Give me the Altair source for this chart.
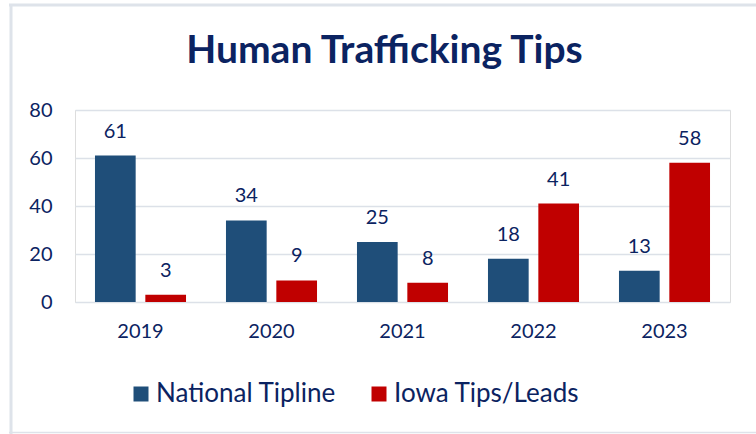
import altair as alt
import pandas as pd

years = ["2019", "2020", "2021", "2022", "2023"]
national = [61, 34, 25, 18, 13]
iowa = [3, 9, 8, 41, 58]
series_names = ["National Tipline", "Iowa Tips/Leads"]
series_colors = ["#1F4E79", "#C00000"]
y_ticks = [0, 20, 40, 60, 80]

rows = []
for i, y in enumerate(years):
    rows.append({"year": y, "series": series_names[0], "value": national[i]})
    rows.append({"year": y, "series": series_names[1], "value": iowa[i]})
df = pd.DataFrame(rows)

FONT = "Lato"
TXT = "#0B2361"

x_enc = alt.X("year:N", sort=years,
              scale=alt.Scale(paddingInner=0.305, paddingOuter=0.1525),
              axis=alt.Axis(title=None, labelAngle=0, ticks=False, domain=False,
                            labelFontSize=20, labelFont=FONT, labelColor=TXT,
                            labelPadding=19))
xoff = alt.XOffset("series:N", sort=series_names,
                   scale=alt.Scale(paddingInner=0.192, paddingOuter=0))
y_enc = alt.Y("value:Q", scale=alt.Scale(domain=[0, 80], nice=False),
              axis=alt.Axis(title=None, values=y_ticks, ticks=False, domain=False,
                            labelFontSize=20, labelFont=FONT, labelColor=TXT,
                            labelPadding=23, gridColor="#DCE1E8", gridWidth=1.5))

base = alt.Chart(df)

bars = base.mark_bar().encode(
    x=x_enc,
    xOffset=xoff,
    y=y_enc,
    color=alt.Color("series:N", sort=series_names,
                    scale=alt.Scale(domain=series_names, range=series_colors),
                    legend=alt.Legend(title=None, orient="none", direction="horizontal",
                                      legendX=53, legendY=271, symbolType="square",
                                      symbolSize=225, symbolStrokeWidth=0,
                                      labelFontSize=26, labelFont=FONT, labelColor=TXT,
                                      labelOffset=2, columnPadding=30, padding=0,
                                      labelLimit=400)),
)

labels = base.mark_text(baseline="alphabetic", dy=-18, fontSize=20, font=FONT, color=TXT).encode(
    x=alt.X("year:N", sort=years),
    xOffset=alt.XOffset("series:N", sort=series_names),
    y="value:Q",
    text="value:Q",
)

frame_df = pd.DataFrame({"k": [0]})
fcol = "#DEE3EA"
top_rule = alt.Chart(frame_df).mark_rule(color=fcol, strokeWidth=3).encode(
    x=alt.value(-66), x2=alt.value(681), y=alt.value(-105))
left_rule = alt.Chart(frame_df).mark_rule(color=fcol, strokeWidth=3).encode(
    x=alt.value(-64), y=alt.value(-106), y2=alt.value(324))
bottom_rule = alt.Chart(frame_df).mark_rule(color=fcol, strokeWidth=1.5).encode(
    x=alt.value(-66), x2=alt.value(681), y=alt.value(322.5))

chart = alt.layer(bars, labels, top_rule, left_rule, bottom_rule).properties(
    width=655, height=192,
    title=alt.TitleParams("Human Trafficking Tips", fontSize=39, font=FONT,
                          fontWeight="bold", color="#0B2361", anchor="middle",
                          baseline="alphabetic", dx=-18, offset=-99),
    padding={"left": 75, "top": 110, "right": 26, "bottom": 132},
    autosize=alt.AutoSizeParams(type="none"),
).configure_view(stroke=None).configure(background="white")

chart.save("out.html", embed_options={"renderer": "svg", "actions": False})
